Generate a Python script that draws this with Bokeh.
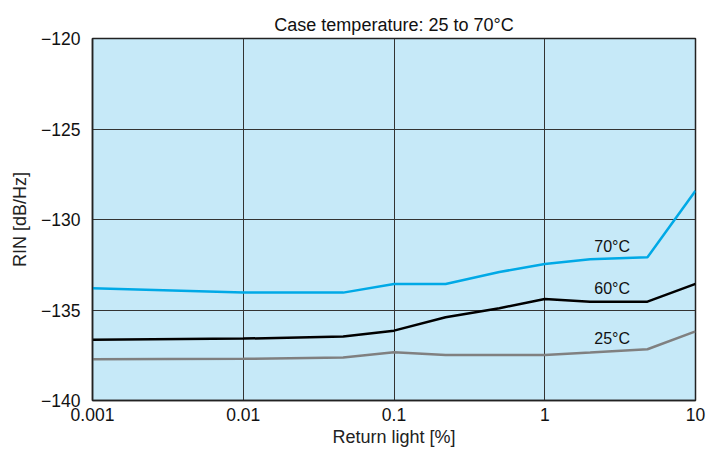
from bokeh.plotting import figure
from bokeh.models import FixedTicker, Label, Title
from bokeh.embed import file_html
from bokeh.resources import INLINE

# Data
return_light = [0.001, 0.01, 0.046, 0.1, 0.22, 0.5, 1, 2, 4.8, 10]
rin_70 = [-133.8, -134.04, -134.04, -133.56, -133.56, -132.9, -132.46, -132.2, -132.09, -128.41]
rin_60 = [-136.65, -136.58, -136.47, -136.14, -135.4, -134.9, -134.39, -134.54, -134.54, -133.56]
rin_25 = [-137.72, -137.7, -137.63, -137.33, -137.48, -137.48, -137.48, -137.35, -137.17, -136.18]
series_labels = ["70°C", "60°C", "25°C"]
label_pos_x = [2.8, 2.8, 2.8]
label_pos_y = [-131.98, -134.28, -137.03]
x_ticks = [0.001, 0.01, 0.1, 1, 10]
x_tick_labels = ["0.001", "0.01", "0.1", "1", "10"]
y_ticks = [-140, -135, -130, -125, -120]
y_tick_labels = ["\u2212140", "\u2212135", "\u2212130", "\u2212125", "\u2212120"]

FONT = "Liberation Sans"

p = figure(width=710, height=452, x_axis_type="log",
           x_range=(0.001, 10), y_range=(-140, -120),
           output_backend="svg", toolbar_location=None,
           min_border_left=92, min_border_right=15,
           min_border_top=38, min_border_bottom=52)

p.background_fill_color = "#c6e9f8"
p.border_fill_color = "white"
p.outline_line_color = "#222222"
p.outline_line_width = 1.5

p.add_layout(Title(text="Case temperature: 25 to 70\u00b0C", align="center",
                   text_font=FONT, text_font_size="18px",
                   text_font_style="normal", text_color="#111111",
                   standoff=7), "above")

p.xaxis.ticker = FixedTicker(ticks=x_ticks)
p.xaxis.major_label_overrides = {t: l for t, l in zip(x_ticks, x_tick_labels)}
p.yaxis.ticker = FixedTicker(ticks=y_ticks)
p.yaxis.major_label_overrides = {t: l for t, l in zip(y_ticks, y_tick_labels)}

for ax in (p.xaxis, p.yaxis):
    ax.major_tick_line_color = None
    ax.minor_tick_line_color = None
    ax.axis_line_color = "#222222"
    ax.axis_line_width = 1.5
    ax.major_label_text_font = FONT
    ax.major_label_text_font_size = "17.5px"
    ax.major_label_text_color = "#111111"
    ax.axis_label_text_font = FONT
    ax.axis_label_text_font_size = "18px"
    ax.axis_label_text_font_style = "normal"
    ax.axis_label_text_color = "#222222"

p.xaxis.axis_label = "Return light [%]"
p.yaxis.axis_label = "RIN [dB/Hz]"
p.xaxis.major_label_standoff = 1
p.yaxis.major_label_standoff = 6
p.xaxis.axis_label_standoff = 3
p.yaxis.axis_label_standoff = 8

for g in (p.xgrid, p.ygrid):
    g.grid_line_color = "#333333"
    g.grid_line_width = 1
    g.grid_line_alpha = 1.0
p.xgrid.minor_grid_line_color = None

p.line(return_light, rin_70, line_color="#00a9e6", line_width=2.5)
p.line(return_light, rin_60, line_color="#000000", line_width=2.5)
p.line(return_light, rin_25, line_color="#808080", line_width=2.5)

for txt, lx, ly in zip(series_labels, label_pos_x, label_pos_y):
    p.add_layout(Label(x=lx, y=ly, text=txt, text_font=FONT, text_font_size="16px",
                       text_align="center", text_baseline="bottom",
                       text_color="#111111"))

open("out.html", "w").write(file_html(p, INLINE))
